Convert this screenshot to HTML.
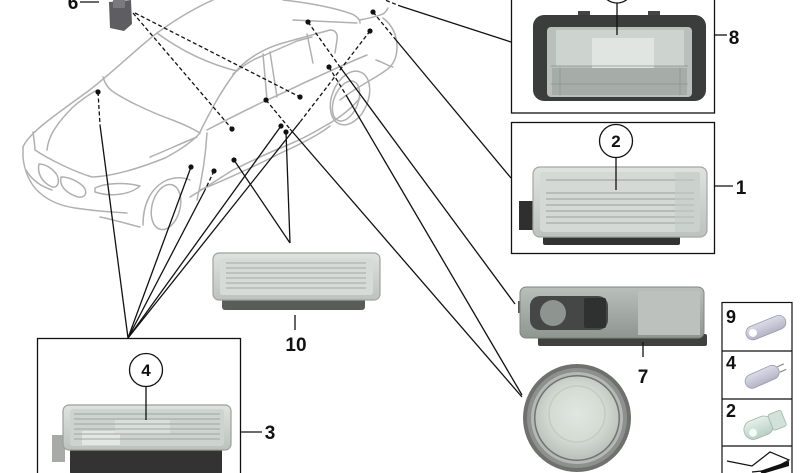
<!DOCTYPE html>
<html><head><meta charset="utf-8"><style>
html,body{margin:0;padding:0;background:#fff;}
svg{display:block;}
text{font-family:"Liberation Sans",Arial,sans-serif;font-weight:bold;fill:#111;}
</style></head><body>
<svg width="800" height="473" viewBox="0 0 800 473" xmlns="http://www.w3.org/2000/svg">
<defs>
<linearGradient id="gLight" x1="0" y1="0" x2="0" y2="1">
<stop offset="0" stop-color="#dfe3df"/><stop offset="1" stop-color="#bcc2bd"/></linearGradient>
<linearGradient id="g7" x1="0" y1="0" x2="0" y2="1">
<stop offset="0" stop-color="#b9bfba"/><stop offset="1" stop-color="#8f9590"/></linearGradient>
<radialGradient id="gRoundIn" cx="0.5" cy="0.45" r="0.55">
<stop offset="0" stop-color="#e0e7e0"/><stop offset="0.6" stop-color="#d3dbd3"/><stop offset="1" stop-color="#b9c1ba"/></radialGradient>
<linearGradient id="gBulb" x1="0" y1="0" x2="0" y2="1">
<stop offset="0" stop-color="#dcdce8"/><stop offset="1" stop-color="#b4b4c6"/></linearGradient>
<linearGradient id="gBulb2" x1="0" y1="0" x2="0" y2="1">
<stop offset="0" stop-color="#e4f0ea"/><stop offset="1" stop-color="#b8d0c6"/></linearGradient>
</defs>

<!-- Car outline -->
<g fill="none" stroke="#b0b0b0" stroke-width="1.5" stroke-linecap="round" stroke-linejoin="round">
<path d="M23,147 C28,135 45,122 87,92 C110,75 135,50 157,33 C175,20 195,8 213,0"/>
<path d="M47,150 C48,140 52,128 73,107 C82,99 90,94 97,90"/>
<path d="M35,150 C50,160 75,172 92,177"/>
<path d="M93,177 C115,176 140,168 165,158 C180,150 192,142 200,133"/>
<path d="M103,77 C105,84 108,88 112,91 C125,100 150,112 175,121 C188,126 195,130 200,133"/>
<path d="M157,33 C180,50 205,63 237,71"/>
<path d="M200,132 C210,112 220,92 237,70 C248,58 265,48 283,43 L330,30 C335,30 338,33 337,40 L335,53"/>
<path d="M233,74 C245,64 255,58 265,55 L297,41 L312,37"/>
<path d="M263,54 L267,100"/><path d="M270,52 L277,97"/>
<path d="M307,34 L313,63"/>
<path d="M207,130 C230,118 250,108 267,100 C290,90 305,82 317,77 C330,71 350,62 367,55"/>
<path d="M207,133 C206,150 204,170 197,200"/>
<path d="M150,157 C165,151 182,143 197,137"/>
<path d="M190,197 C205,188 220,178 233,170 C250,162 265,154 283,147 C300,140 315,132 323,127 C340,118 352,108 360,98"/>
<path d="M200,190 C225,180 255,166 283,152 C305,142 320,134 330,126"/>
<path d="M283,0 C310,3 335,8 352,14 C358,17 360,20 360,23"/>
<path d="M293,20 L357,23"/>
<path d="M360,20 C370,18 378,16 383,14 C386,12 387,10 388,8"/>
<path d="M383,18 C392,25 397,35 397,47 C397,58 393,66 385,71 C372,80 355,88 340,100"/>
<path d="M376,60 C385,63 390,67 393,67"/>
<ellipse cx="350" cy="98" rx="18" ry="28" transform="rotate(22 350 98)"/>
<ellipse cx="346" cy="101" rx="12" ry="21" transform="rotate(22 346 101)"/>
<ellipse cx="166" cy="207" rx="14" ry="23" transform="rotate(15 166 207)"/>
<path d="M143,225 C143,205 150,188 167,180 C175,177 183,177 190,180"/>
<path d="M23,147 L23,157 C24,170 30,185 40,193 C50,202 62,206 75,208 C95,211 110,212 127,213"/>
<path d="M100,217 C115,220 128,224 140,227"/>
<path d="M33,132 C34,140 35,146 35,150"/>
<path d="M26,170 C32,180 40,186 52,190"/>
<path d="M39,164 C37,172 41,182 52,187 C58,188 60,182 57,175 C53,169 46,164 39,164 Z"/>
<path d="M61,177 C59,185 65,193 78,197 C86,198 88,192 83,186 C77,181 69,177 61,177 Z"/>
<path d="M95,188 C105,183 125,182 140,186 C130,195 110,197 95,192 Z"/>
</g>

<!-- Connector lines -->
<g fill="none" stroke="#111" stroke-width="1.3">
<path d="M98,92 L100,125" stroke-dasharray="4 2.5"/><path d="M100,125 L128,338"/>
<path d="M191,167 L128,338"/>
<path d="M214,171 L205,190" stroke-dasharray="4 2.5"/><path d="M205,190 L128,338"/>
<path d="M281,126 L128,338"/>
<path d="M370,31 L300,122" stroke-dasharray="4 2.5"/><path d="M300,122 L128,338"/>
<path d="M286,132 L290,243"/>
<path d="M234,160 L290,243"/>
<path d="M133,13 L232,129" stroke-dasharray="4 2.5"/>
<path d="M135,13 L300,97" stroke-dasharray="4 2.5"/>
<path d="M266,100 L290,129" stroke-dasharray="4 2.5"/><path d="M290,129 L522,397"/>
<path d="M329,67 L346,95" stroke-dasharray="4 2.5"/><path d="M346,95 L522,395"/>
<path d="M308,22 L340,67" stroke-dasharray="4 2.5"/><path d="M340,67 L515,304"/>
<path d="M373,12 L396,40" stroke-dasharray="4 2.5"/><path d="M396,40 L511,178"/>
<path d="M380,-2 L400,6" stroke-dasharray="4 2.5"/><path d="M400,6 L511,42"/>
</g>
<g fill="#111">
<circle cx="98" cy="92" r="2.6"/><circle cx="191" cy="167" r="2.6"/><circle cx="214" cy="171" r="2.6"/>
<circle cx="281" cy="126" r="2.6"/><circle cx="286" cy="132" r="2.6"/><circle cx="234" cy="160" r="2.6"/>
<circle cx="232" cy="129" r="2.6"/><circle cx="300" cy="97" r="2.6"/><circle cx="266" cy="100" r="2.6"/>
<circle cx="308" cy="22" r="2.6"/><circle cx="329" cy="67" r="2.6"/><circle cx="370" cy="31" r="2.6"/>
<circle cx="373" cy="12" r="2.6"/>
</g>

<!-- Part 6 -->
<path d="M109,2 L131,0 L132,24 L124,31 L110,28 Z" fill="#5e5e62"/>
<rect x="113" y="0" width="12" height="8" fill="#7a7a7e"/>
<line x1="80" y1="2" x2="99" y2="2" stroke="#111" stroke-width="1.3"/>
<text x="73" y="9" font-size="19" text-anchor="middle">6</text>

<!-- Box 8 -->
<rect x="511.5" y="-2" width="203" height="115" fill="none" stroke="#111" stroke-width="1.3"/>
<rect x="578" y="11" width="12" height="5" fill="#444"/><rect x="648" y="11" width="12" height="5" fill="#444"/>
<rect x="533" y="15" width="173" height="86" rx="11" fill="#3b3d3c"/>
<rect x="547" y="27" width="145" height="70" rx="4" fill="#b9bfbb"/>
<rect x="556" y="30" width="128" height="36" fill="#cdd3cf"/>
<rect x="592" y="38" width="62" height="36" fill="#e0e5e1"/>
<rect x="552" y="68" width="135" height="27" fill="#a6ada8"/>
<g stroke="#8c938e" stroke-width="0.8">
<line x1="551" y1="66" x2="688" y2="66"/><line x1="551" y1="84" x2="688" y2="84"/>
<line x1="560" y1="68" x2="560" y2="95"/><line x1="680" y1="68" x2="680" y2="95"/>
</g>
<circle cx="617" cy="-13" r="16" fill="#fff" stroke="#111" stroke-width="1.3"/>
<line x1="617" y1="3" x2="617" y2="35" stroke="#111" stroke-width="1.3"/>
<line x1="714" y1="35" x2="727" y2="35" stroke="#111" stroke-width="1.3"/>
<text x="734" y="44" font-size="19" text-anchor="middle">8</text>

<!-- Box 1 -->
<rect x="511.5" y="122.5" width="203" height="131" fill="none" stroke="#111" stroke-width="1.3"/>
<rect x="543" y="234" width="137" height="11" rx="2" fill="#333"/>
<rect x="519" y="201" width="16" height="29" fill="#2f2f2f"/>
<rect x="533" y="167" width="174" height="70" rx="7" fill="url(#gLight)" stroke="#a3a8a4" stroke-width="1.2"/>
<rect x="540" y="172" width="160" height="60" rx="4" fill="#d4d9d5"/>
<g stroke="#9aa09b" stroke-width="0.9">
<line x1="546" y1="180" x2="694" y2="180"/><line x1="546" y1="193" x2="694" y2="193"/>
<line x1="546" y1="199" x2="694" y2="199"/><line x1="546" y1="205" x2="694" y2="205"/>
<line x1="546" y1="211" x2="694" y2="211"/><line x1="546" y1="217" x2="694" y2="217"/>
<line x1="546" y1="223" x2="694" y2="223"/>
</g>
<rect x="675" y="172" width="25" height="60" fill="#c5cbc6" opacity="0.6"/>
<circle cx="616" cy="141" r="16.5" fill="#fff" stroke="#111" stroke-width="1.3"/>
<text x="616" y="147" font-size="17" text-anchor="middle">2</text>
<line x1="616" y1="157.5" x2="616" y2="190" stroke="#111" stroke-width="1.3"/>
<line x1="714" y1="186" x2="733" y2="186" stroke="#111" stroke-width="1.3"/>
<text x="741" y="194" font-size="19" text-anchor="middle">1</text>

<!-- Lamp 10 -->
<rect x="222" y="295" width="143" height="15" rx="3" fill="#5a5c5a"/>
<rect x="213" y="253" width="167" height="47" rx="6" fill="url(#gLight)" stroke="#9ea39f" stroke-width="1.2"/>
<rect x="220" y="258" width="153" height="37" rx="3" fill="#d6dbd7"/>
<g stroke="#a2a8a3" stroke-width="0.9">
<line x1="226" y1="263" x2="366" y2="263"/><line x1="226" y1="268" x2="366" y2="268"/>
<line x1="226" y1="273" x2="366" y2="273"/><line x1="226" y1="278" x2="366" y2="278"/>
<line x1="226" y1="283" x2="366" y2="283"/><line x1="226" y1="288" x2="366" y2="288"/>
</g>
<line x1="295" y1="315" x2="295" y2="330" stroke="#111" stroke-width="1.3"/>
<text x="296" y="351" font-size="19" text-anchor="middle">10</text>

<!-- Box 3 -->
<rect x="37.5" y="338.5" width="203" height="140" fill="none" stroke="#111" stroke-width="1.3"/>
<rect x="52" y="435" width="13" height="27" fill="#a7aaa7"/>
<rect x="70" y="445" width="152" height="30" rx="3" fill="#333"/>
<rect x="63" y="405" width="168" height="45" rx="6" fill="url(#gLight)" stroke="#9aa09b" stroke-width="1.2"/>
<rect x="70" y="409" width="154" height="37" rx="3" fill="#cdd3ce"/>
<rect x="82" y="431" width="38" height="14" fill="#e3e7e3"/>
<rect x="115" y="420" width="55" height="14" fill="#d9dfda"/>
<g stroke="#a0a6a1" stroke-width="0.9">
<line x1="74" y1="414" x2="220" y2="414"/><line x1="74" y1="419" x2="220" y2="419"/>
<line x1="74" y1="424" x2="220" y2="424"/><line x1="74" y1="429" x2="220" y2="429"/>
<line x1="74" y1="434" x2="220" y2="434"/><line x1="74" y1="439" x2="220" y2="439"/>
</g>
<circle cx="146" cy="370" r="16.5" fill="#fff" stroke="#111" stroke-width="1.3"/>
<text x="146" y="376" font-size="17" text-anchor="middle">4</text>
<line x1="146" y1="386.5" x2="146" y2="420" stroke="#111" stroke-width="1.3"/>
<line x1="241" y1="432" x2="262" y2="432" stroke="#111" stroke-width="1.3"/>
<text x="270" y="439" font-size="19" text-anchor="middle">3</text>

<!-- Lamp 7 -->
<rect x="538" y="334" width="169" height="12" rx="2" fill="#3f413f"/>
<rect x="518" y="301" width="4" height="12" fill="#555"/>
<rect x="520" y="287" width="184" height="51" rx="6" fill="url(#g7)" stroke="#7f8580" stroke-width="1"/>
<rect x="638" y="291" width="62" height="44" fill="#bcc1bd"/>
<rect x="530" y="296" width="78" height="34" rx="10" fill="#454746"/>
<rect x="584" y="298" width="22" height="30" rx="2" fill="#2f3130"/>
<circle cx="553" cy="313" r="13" fill="#8e9590"/>
<line x1="643" y1="342" x2="643" y2="357" stroke="#111" stroke-width="1.3"/>
<text x="643" y="383" font-size="19" text-anchor="middle">7</text>

<!-- Round lamp -->
<circle cx="577" cy="418" r="54" fill="#6f716f"/>
<circle cx="577" cy="418" r="50" fill="#8d908d"/>
<circle cx="577" cy="418" r="46" fill="#b5b9b5"/>
<circle cx="577" cy="418" r="43" fill="#707370"/>
<circle cx="577" cy="418" r="41.5" fill="url(#gRoundIn)"/>
<circle cx="577" cy="414" r="28" fill="none" stroke="#c3cbc4" stroke-width="1.5"/>

<!-- Bulb panel -->
<g fill="none" stroke="#111" stroke-width="1.2">
<rect x="722" y="302.5" width="70" height="175"/>
<line x1="722" y1="351" x2="792" y2="351"/>
<line x1="722" y1="399" x2="792" y2="399"/>
<line x1="722" y1="446" x2="792" y2="446"/>
</g>
<text x="731" y="323" font-size="18" text-anchor="middle">9</text>
<text x="731" y="369" font-size="18" text-anchor="middle">4</text>
<text x="731" y="417" font-size="18" text-anchor="middle">2</text>
<g transform="rotate(-22 765 328)">
<rect x="745" y="321" width="42" height="14" rx="7" fill="url(#gBulb)" stroke="#9a9ab0" stroke-width="0.8"/>
<circle cx="752" cy="328" r="4" fill="#fff"/>
</g>
<g transform="rotate(-24 764 376)">
<rect x="744" y="369" width="36" height="14" rx="7" fill="url(#gBulb)" stroke="#9a9ab0" stroke-width="0.8"/>
<line x1="780" y1="373" x2="787" y2="373" stroke="#888" stroke-width="1.2"/>
<line x1="780" y1="379" x2="787" y2="379" stroke="#888" stroke-width="1.2"/>
</g>
<g transform="rotate(-22 764 425)">
<rect x="743" y="416" width="30" height="19" rx="9" fill="url(#gBulb2)" stroke="#9fb5ac" stroke-width="0.8"/>
<rect x="771" y="417" width="14" height="17" rx="2" fill="#d2e2da" stroke="#9fb5ac" stroke-width="0.8"/>
<circle cx="751" cy="428" r="4" fill="#f4faf6"/>
</g>
<path d="M727,461 L752,466 L770,452 L789,460 L771,470 L752,472" fill="#fff" stroke="#111" stroke-width="1.2"/>
<path d="M760,471 L789,461 L789,466 L762,474 Z" fill="#111"/>
</svg>
</body></html>
